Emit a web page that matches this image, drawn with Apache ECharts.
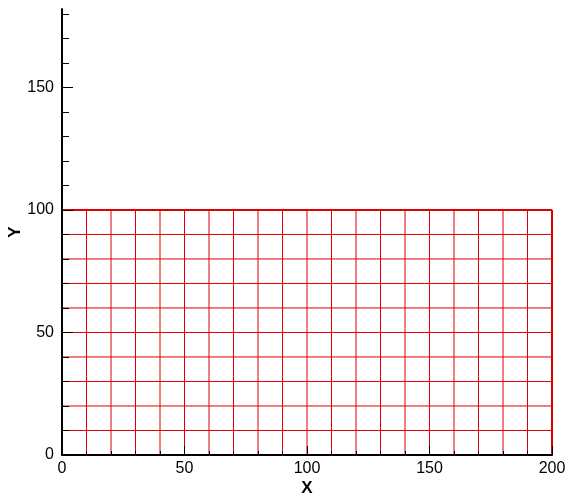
<!DOCTYPE html>
<html><head><meta charset="utf-8">
<script src="https://cdn.jsdelivr.net/npm/echarts@6/dist/echarts.min.js"></script>
<style>html,body{margin:0;padding:0;background:#fff}#c{width:568px;height:495px}</style>
</head><body><div id="c"></div>
<script>
const xTickValues = [0, 50, 100, 150, 200];
const yTickValues = [0, 50, 100, 150];
const yMinorTickValues = [10, 20, 30, 40, 60, 70, 80, 90, 110, 120, 130, 140, 160, 170, 180];
const meshX = [0, 10, 20, 30, 40, 50, 60, 70, 80, 90, 100, 110, 120, 130, 140, 150, 160, 170, 180, 190, 200];
const meshY = [0, 10, 20, 30, 40, 50, 60, 70, 80, 90, 100];
const xRange = [0, 200];
const yRange = [0, 182];

const FONT = 'Liberation Sans, Arial, sans-serif';
const RED = '#dd0000';
const series = [];
const yLo = meshY[0], yHi = meshY[meshY.length - 1];
const xLo = meshX[0], xHi = meshX[meshX.length - 1];
meshX.forEach(x => series.push({
  type: 'line', silent: true, symbol: 'none', animation: false, yAxisIndex: 0, z: 1,
  lineStyle: { color: RED, width: x === xHi ? 2 : 1 },
  data: [[x, yLo], [x, yHi]]
}));
meshY.forEach(y => series.push({
  type: 'line', silent: true, symbol: 'none', animation: false, yAxisIndex: 0, z: 1,
  lineStyle: { color: RED, width: y === yHi ? 2 : 1 },
  data: [[xLo, y], [xHi, y]]
}));

const chart = echarts.init(document.getElementById('c'));
chart.setOption({
  backgroundColor: '#fff',
  animation: false,
  grid: { left: 62, right: 16, top: 9, bottom: 40, containLabel: false, outerBoundsMode: 'none' },
  xAxis: {
    type: 'value', min: xRange[0], max: xRange[1], interval: 50, z: 5,
    axisLine: { show: true, onZero: false, lineStyle: { color: '#000', width: 2 } },
    axisTick: { show: true, inside: true, length: 9, lineStyle: { color: '#000', width: 1 } },
    minorTick: { show: true, splitNumber: 5, length: 4, lineStyle: { color: '#000', width: 1 } },
    axisLabel: { margin: 6, color: '#000', fontSize: 16, fontFamily: FONT },
    splitLine: { show: false }, minorSplitLine: { show: false },
    name: 'X', nameLocation: 'middle', nameGap: 25, nameMoveOverlap: false,
    nameTextStyle: { color: '#000', fontSize: 17, fontWeight: 'bold', fontFamily: FONT }
  },
  yAxis: [{
    type: 'value', min: yRange[0], max: yRange[1], position: 'left', z: 5,
    axisLine: { show: true, onZero: false, lineStyle: { color: '#000', width: 2 } },
    axisTick: { show: true, inside: true, length: 11, customValues: yTickValues, lineStyle: { color: '#000', width: 1 } },
    axisLabel: { margin: 8, color: '#000', fontSize: 16, fontFamily: FONT, customValues: yTickValues },
    splitLine: { show: false },
    name: 'Y', nameLocation: 'middle', nameGap: 38, nameRotate: 90, nameMoveOverlap: false,
    nameTextStyle: { color: '#000', fontSize: 17, fontWeight: 'bold', fontFamily: FONT }
  }, {
    type: 'value', min: yRange[0], max: yRange[1], position: 'left', z: 5,
    axisLine: { show: false },
    axisTick: { show: true, inside: true, length: 7, customValues: yMinorTickValues, lineStyle: { color: '#000', width: 1 } },
    axisLabel: { show: false },
    splitLine: { show: false }
  }],
  series: series
});
</script></body></html>
